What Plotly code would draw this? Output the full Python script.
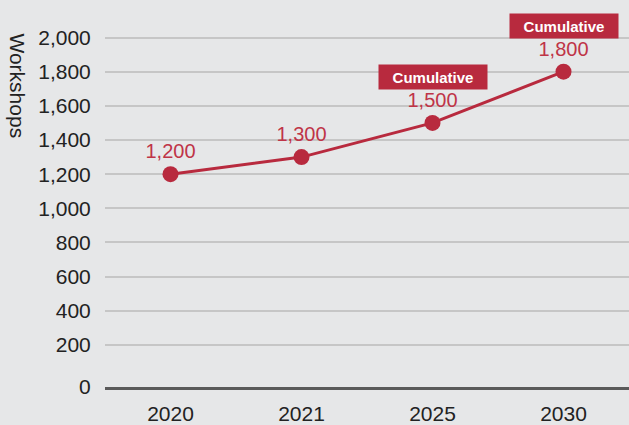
import plotly.graph_objects as go

years = ["2020", "2021", "2025", "2030"]
workshops = [1200, 1300, 1500, 1800]
flags = ["", "", "Cumulative", "Cumulative"]
y_ticks = [0, 200, 400, 600, 800, 1000, 1200, 1400, 1600, 1800, 2000]

RED = "#b82a3e"
BG = "#e6e7e8"
FONT = "Liberation Sans, Arial, Helvetica, sans-serif"

y_lo, y_hi = -46, 2044
tickvals = [y_lo if v == 0 else v for v in y_ticks]
ticktext = [f"{v:,}" for v in y_ticks]

x_idx = list(range(len(years)))

fig = go.Figure()
fig.add_trace(go.Scatter(
    x=x_idx, y=workshops,
    mode="lines+markers+text",
    line=dict(color=RED, width=3),
    marker=dict(color=RED, size=16),
    text=[f"{v:,}" for v in workshops],
    textposition="top center",
    textfont=dict(color="#bf3447", size=20, family=FONT),
    cliponaxis=False,
    hoverinfo="skip",
))

for i, v, f in zip(x_idx, workshops, flags):
    if f:
        fig.add_annotation(
            x=i, y=v, xref="x", yref="y", text=f"<b>{f}</b>",
            showarrow=False, yshift=46, yanchor="middle", xanchor="center",
            bgcolor=RED, font=dict(color="white", size=15, family=FONT),
            width=108, height=24, borderpad=0,
        )

fig.add_annotation(
    text="Workshops", xref="paper", yref="paper",
    x=(17 - 105) / 524, y=(387 - 31) / 357, xanchor="center", yanchor="top",
    textangle=90, showarrow=False,
    font=dict(color="#222222", size=21, family=FONT),
)

fig.update_layout(
    width=629, height=425,
    margin=dict(l=105, r=0, t=30, b=38),
    paper_bgcolor=BG, plot_bgcolor=BG,
    showlegend=False,
    font=dict(family=FONT, color="#222222", size=20),
    xaxis=dict(
        range=[-0.5, len(years) - 0.5], tickvals=x_idx, ticktext=years,
        showgrid=False, zeroline=False,
        showline=True, linecolor="#5a5a5a", linewidth=3,
        ticks="outside", ticklen=6, tickcolor="rgba(0,0,0,0)",
        tickfont=dict(size=21, color="#222222"),
    ),
    yaxis=dict(
        range=[y_lo, y_hi], tickvals=tickvals, ticktext=ticktext,
        showgrid=True, gridcolor="#c6c6c6", gridwidth=1.5,
        zeroline=False, showline=False,
        ticks="outside", ticklen=9, tickcolor="rgba(0,0,0,0)",
        tickfont=dict(size=21, color="#222222"),
    ),
)

fig.write_html(
    "out.html",
    config={"displayModeBar": False},
    post_script="document.body.style.margin='0';document.body.style.padding='0';",
)
